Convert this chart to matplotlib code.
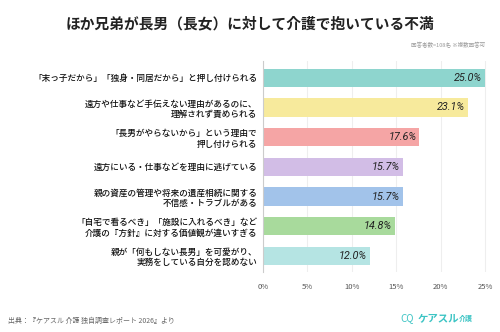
import matplotlib
matplotlib.use('Agg')
import matplotlib.pyplot as plt

plt.rcParams['font.family'] = ['Noto Sans CJK JP', 'DejaVu Sans']

labels = [
    '「末っ子だから」「独身・同居だから」と押し付けられる',
    '遠方や仕事など手伝えない理由があるのに、\n理解されず責められる',
    '「長男がやらないから」という理由で\n押し付けられる',
    '遠方にいる・仕事などを理由に逃げている',
    '親の資産の管理や将来の遺産相続に関する\n不信感・トラブルがある',
    '「自宅で看るべき」「施設に入れるべき」など\n介護の『方針』に対する価値観が違いすぎる',
    '親が「何もしない長男」を可愛がり、\n実務をしている自分を認めない',
]
values = [25.0, 23.1, 17.6, 15.7, 15.7, 14.8, 12.0]
colors = ['#8ED5CE', '#F7EA9C', '#F5A5A5', '#D2BDE6', '#A2C3EA', '#A8DA9C', '#B5E4E3']
ticks = [0, 5, 10, 15, 20, 25]

fig = plt.figure(figsize=(5, 3.32), dpi=100)
fig.patch.set_facecolor('white')
ax = fig.add_axes([0.526, 0.18, 0.448, 0.635])

ypos = list(range(len(values)))
ax.barh(ypos, values, color=colors, height=0.62, zorder=2)
ax.set_ylim(len(values) - 0.45, -0.55)
ax.set_xlim(0, 25.2)

for y, v in zip(ypos, values):
    ax.text(v - 0.35, y, f'{v:.1f}%', ha='right', va='center', fontsize=7.8,
            style='italic', color='#222222', family=['Roboto', 'DejaVu Sans'], zorder=3)

ax.set_yticks(ypos)
ax.set_yticklabels(labels, fontsize=6.2, color='#111111', fontweight='medium', linespacing=1.2)
ax.set_xticks(ticks)
ax.set_xticklabels([f'{t}%' for t in ticks], fontsize=5.5, color='#555555')
ax.tick_params(axis='both', length=0, pad=4)
ax.tick_params(axis='x', pad=8)
ax.grid(axis='x', color='#EEEEEE', linewidth=0.8, zorder=0)
for s in ['top', 'right', 'bottom']:
    ax.spines[s].set_visible(False)
ax.spines['left'].set_color('#CCCCCC')
ax.spines['left'].set_linewidth(0.8)

fig.text(0.5, 0.93, 'ほか兄弟が長男（長女）に対して介護で抱いている不満', ha='center', va='center',
         fontsize=10.6, fontweight='bold', color='#222222')
fig.text(0.97, 0.865, '回答者数=108名 ※複数回答可', ha='right', va='center', fontsize=4, color='#999999')
fig.text(0.015, 0.032, '出典：『ケアスル 介護 独自調査レポート 2026』より', ha='left', va='center',
         fontsize=5, color='#666666')
fig.text(0.835, 0.042, 'ケアスル', ha='left', va='center', fontsize=7.5, fontweight='bold', color='#3CC4C4')
fig.text(0.917, 0.040, '介護', ha='left', va='center', fontsize=5, fontweight='bold', color='#3CC4C4')
fig.text(0.8, 0.042, 'CQ', ha='left', va='center', fontsize=7, color='#3CC4C4')

fig.savefig('out.png', dpi=100)
